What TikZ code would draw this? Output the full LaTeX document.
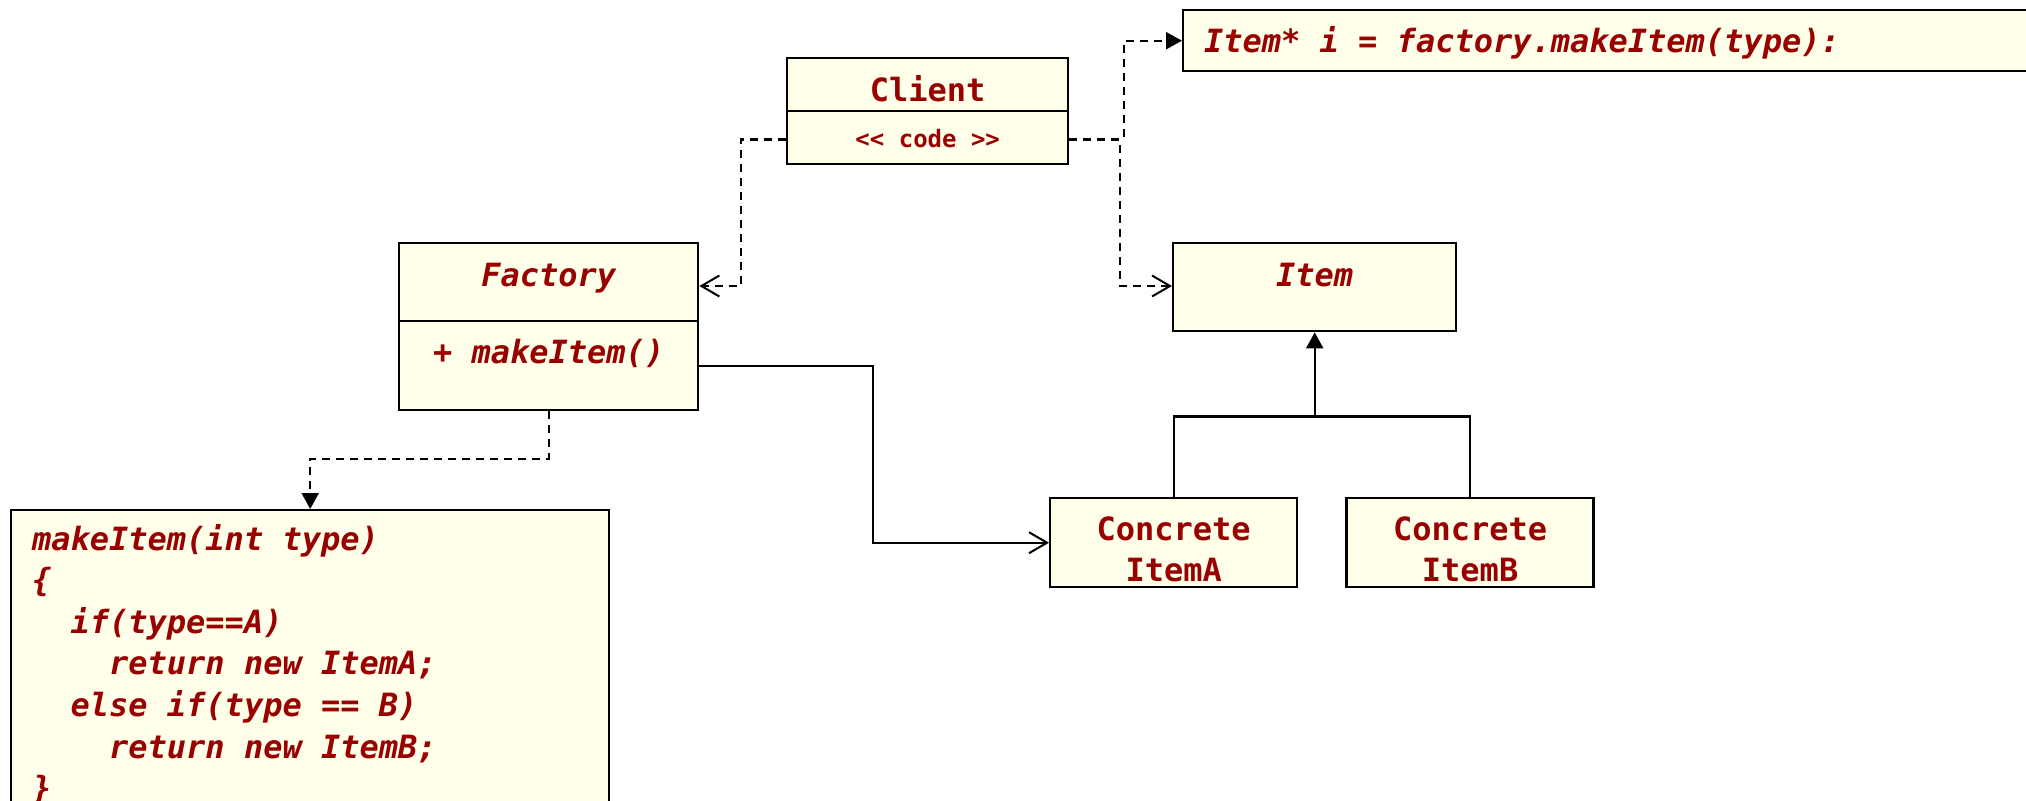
\documentclass[tikz,border=0pt]{standalone}
\usepackage{fontspec}
\setmonofont{DejaVu Sans Mono}[BoldFont={* Bold},ItalicFont={* Oblique},BoldItalicFont={* Bold Oblique}]
\usepackage{tikz}
\usetikzlibrary{positioning,arrows.meta}
\definecolor{boxfill}{RGB}{255,255,234}
\definecolor{codered}{RGB}{153,0,0}

\begin{document}
\begin{tikzpicture}[
  x=0.5pt,y=-0.5pt,
  mybox/.style={draw,fill=boxfill,line width=1.2pt,inner sep=0pt,anchor=north west},
  mytext/.style={text=codered,inner sep=0pt,font=\ttfamily\bfseries\fontsize{16}{20.5}\selectfont},
  mytexti/.style={mytext,font=\ttfamily\bfseries\itshape\fontsize{16}{20.8}\selectfont},
  mydash/.style={dash pattern=on 4pt off 3pt},
  openhead/.tip={Straight Barb[length=9pt,width=10.5pt,line width=1pt]},
  fullhead/.tip={Triangle[length=8pt,width=8.5pt]},
  line width=1.1pt
]
\useasboundingbox (0,0) rectangle (2026,800);

% classes
\node[mybox,minimum width=140.5pt,minimum height=53pt] (client) at (786,57) {};
\draw ([yshift=-27pt]client.north west) -- ([yshift=-27pt]client.north east);
\node[mytext,anchor=base] (clientname) at ([yshift=-22pt]client.north) {Client};
\node[mytext,anchor=base,font=\ttfamily\bfseries\fontsize{12}{14}\selectfont] (clientcode) at ([yshift=9pt]client.south) {<< code >>};

\node[mybox,minimum width=149.5pt,minimum height=83.5pt] (factory) at (398,242) {};
\draw ([yshift=-39.5pt]factory.north west) -- ([yshift=-39.5pt]factory.north east);
\node[mytexti,anchor=base] (factoryname) at ([yshift=-22pt]factory.north) {Factory};
\node[mytexti,anchor=base] (factoryop) at ([yshift=-60.5pt]factory.north) {+ makeItem()};

\node[mybox,minimum width=141.5pt,minimum height=44pt] (item) at (1172,242) {};
\node[mytexti,anchor=base] (itemname) at ([yshift=-22pt]item.north) {Item};

\node[mybox,minimum width=123.5pt,minimum height=44.5pt] (itema) at (1049,497) {};
\node[mybox,minimum width=123.5pt,minimum height=44.5pt,right=23.5pt of itema] (itemb) {};
\node[mytext,anchor=base,align=center] (itemaname) at ([yshift=-42pt]itema.north) {Concrete\\ItemA};
\node[mytext,anchor=base,align=center] (itembname) at ([yshift=-42pt]itemb.north) {Concrete\\ItemB};

% notes
\node[mybox,minimum width=429pt,minimum height=30.5pt] (note) at (1182,9) {};
\node[mytexti,anchor=base west] (notetext) at ([xshift=10.5pt,yshift=-21.5pt]note.north west) {Item* i = factory.makeItem(type):};

\node[mybox,minimum width=299pt,minimum height=170pt] (code) at (10,509) {};
\node[mytexti,anchor=base west,align=left] (codetext) at ([xshift=10.5pt,yshift=-145.3pt]code.north west) {makeItem(int type)\\
\{\\
\hphantom{xx}if(type==A)\\
\hphantom{xxxx}return new ItemA;\\
\hphantom{xx}else if(type == B)\\
\hphantom{xxxx}return new ItemB;\\
\}};

% connectors
\draw[mydash,-openhead] ([yshift=13pt]client.south west) -| (741,286) -- ([yshift=-22pt]factory.north east);
\draw[mydash,-openhead] ([yshift=13pt]client.south east) -| (1120,286) -- ([yshift=-22pt]item.north west);
\draw[mydash,-fullhead] (1124,137) |- (note.west);
\draw[mydash,-fullhead] (factory.south) |- ([yshift=25pt]code.north) -- (code.north);
\draw[-openhead] ([yshift=-62pt]factory.north east) -- (873,366) |- (itema.west);

\coordinate (join) at ([yshift=-42pt]item.south);
\draw (itema.north) |- (join) -| (itemb.north);
\draw[-fullhead] (join) -- (item.south);
\end{tikzpicture}
\end{document}
